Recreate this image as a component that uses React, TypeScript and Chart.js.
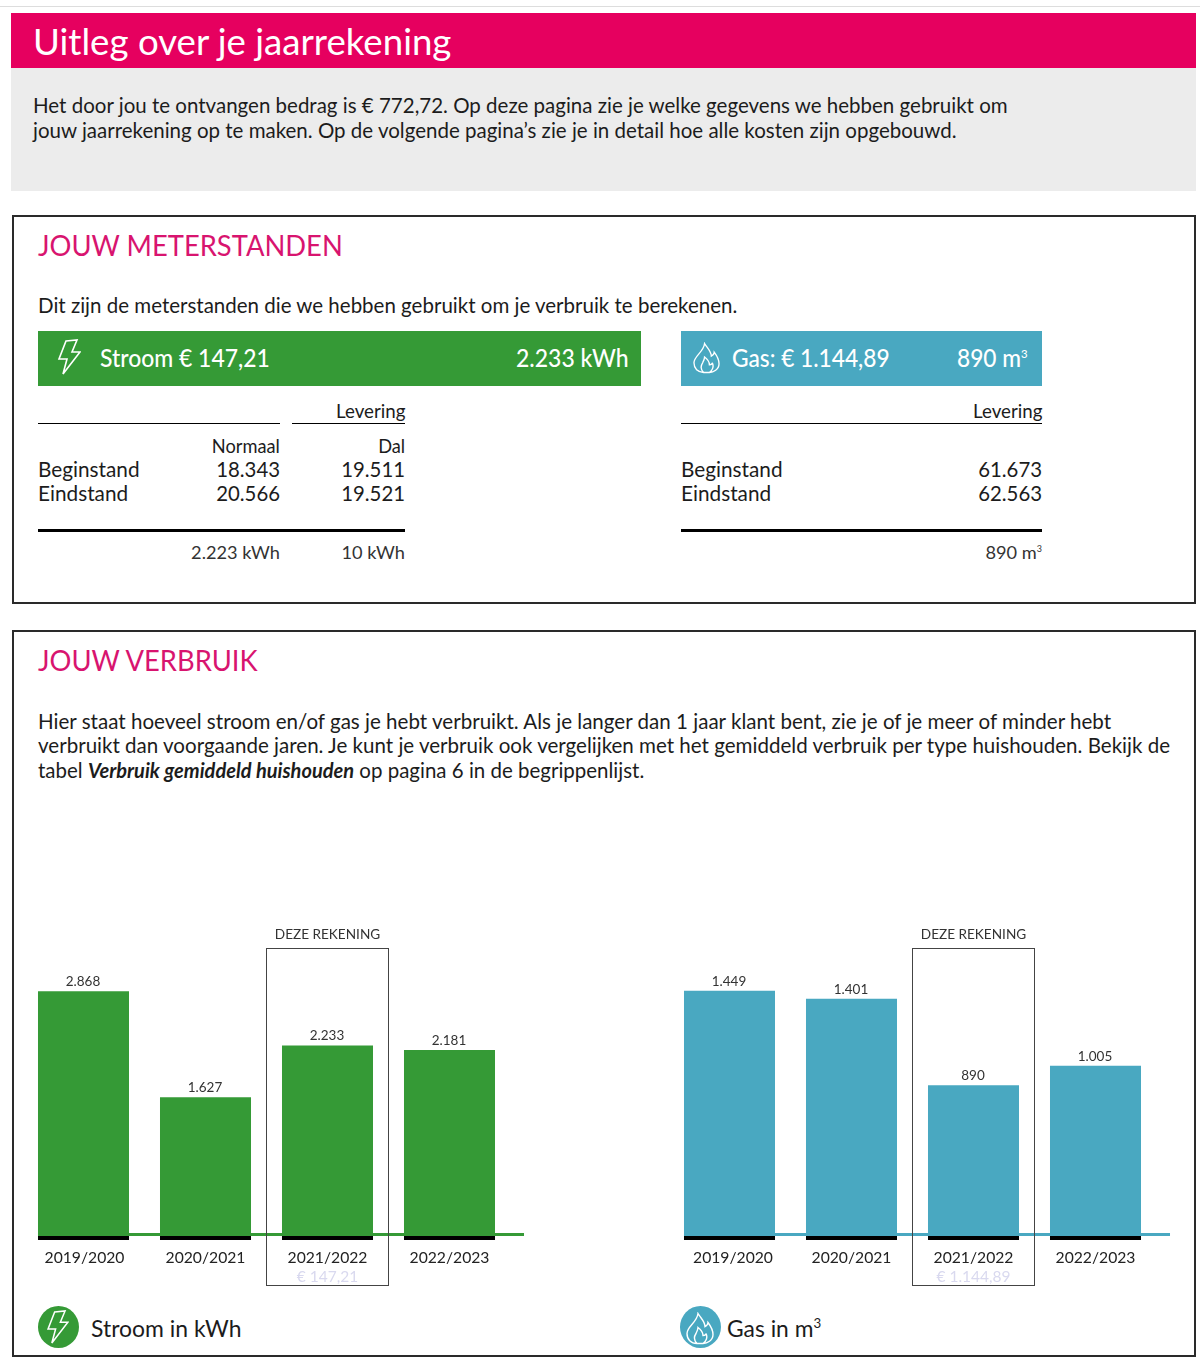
import React, { useEffect, useRef } from "react";
import { Chart, registerables } from "chart.js";

Chart.register(...registerables);

const years = ["2019/2020", "2020/2021", "2021/2022", "2022/2023"];
const stroomValues = [2868, 1627, 2233, 2181];
const gasValues = [1449, 1401, 890, 1005];
const currentYear = "2021/2022";
const stroomAmount = "€ 147,21";
const gasAmount = "€ 1.144,89";
const boxTitle = "DEZE REKENING";

const GREEN = "#359a36";
const BLUE = "#49a8c1";
const PINK = "#e6005f";
const HEAD = "#d8146f";
const INK = "#1c1c1c";

const FONT = "Lato, sans-serif";

function fmt(n: number) {
  return String(n).replace(/\B(?=(\d{3})+$)/g, ".");
}

type BarProps = {
  values: number[];
  color: string;
  max: number;
  amount: string;
  left: number;
  width: number;
  padLeft: number;
  padRight: number;
  lineExtra: number;
  labelShift: number[];
};

function BarChart({ values, color, max, amount, left, width, padLeft, padRight, lineExtra, labelShift }: BarProps) {
  const ref = useRef<HTMLCanvasElement | null>(null);
  useEffect(() => {
    if (!ref.current) return;
    const overlay = {
      id: "overlay",
      beforeDraw(chart: any) {
        const items = chart.scales.x.getLabelItems(chart.chartArea);
        items.forEach((it: any, i: number) => {
          it.options.translation[0] += labelShift[i] || 0;
        });
      },
      afterDatasetsDraw(chart: any) {
        const { ctx, scales, chartArea } = chart;
        const x = scales.x;
        const y = scales.y;
        const meta = chart.getDatasetMeta(0);
        const base = y.getPixelForValue(0);
        ctx.save();
        const first = meta.data[0];
        const last = meta.data[meta.data.length - 1];
        ctx.fillStyle = color;
        ctx.fillRect(first.x - first.width / 2, base - 3, last.x + last.width / 2 - (first.x - first.width / 2) + lineExtra, 3);
        ctx.fillStyle = "#000";
        meta.data.forEach((b: any) => ctx.fillRect(b.x - b.width / 2, base, b.width, 4));
        ctx.fillStyle = "#333";
        ctx.font = `13.5px ${FONT}`;
        ctx.textAlign = "center";
        ctx.textBaseline = "alphabetic";
        meta.data.forEach((b: any, i: number) => ctx.fillText(fmt(values[i]), b.x - 0.5, b.y - 5));
        const cx = x.getPixelForValue(years.indexOf(currentYear));
        const half = 61;
        const top = chartArea.top - 32;
        ctx.strokeStyle = "#444";
        ctx.lineWidth = 1;
        ctx.strokeRect(Math.floor(cx - half) + 0.5, top + 0.5, 122, 337);
        ctx.fillStyle = "#333";
        ctx.font = `13.6px ${FONT}`;
        ctx.fillText(boxTitle, cx, top - 9);
        ctx.fillStyle = "#d9d9ef";
        ctx.font = `15.5px ${FONT}`;
        ctx.fillText(amount, cx, top + 334);
        ctx.restore();
      },
    };
    const chart = new Chart(ref.current, {
      type: "bar",
      data: {
        labels: years,
        datasets: [
          { data: values, backgroundColor: color, barPercentage: 0.746, categoryPercentage: 1 },
        ],
      },
      options: {
        responsive: false,
        animation: false,
        layout: { padding: { left: padLeft, right: padRight, top: 60, bottom: 0 } },
        plugins: { legend: { display: false }, tooltip: { enabled: false }, title: { display: false } },
        scales: {
          y: { display: false, min: 0, max },
          x: {
            grid: { display: false, drawTicks: false },
            border: { display: false },
            afterFit: (s: any) => {
              s.height = 64;
            },
            ticks: {
              padding: 13,
              color: "#222",
              autoSkip: false,
              maxRotation: 0,
              font: { family: "Lato", size: 15.7 },
            },
          },
        },
      },
      plugins: [overlay],
    } as any);
    return () => chart.destroy();
  }, []);
  return (
    <canvas
      ref={ref}
      width={width}
      height={380}
      style={{ position: "absolute", left, top: 920, width, height: 380 }}
    />
  );
}

type TProps = {
  x: number;
  y: number;
  size: number;
  color?: string;
  right?: boolean;
  weight?: number;
  sx?: number;
  children: React.ReactNode;
};

function T({ x, y, size, color = INK, right, weight = 400, sx = 1, children }: TProps) {
  const st: React.CSSProperties = {
    position: "absolute",
    top: y,
    transform: `translateY(-50%) scaleX(${sx})`,
    transformOrigin: right ? "right center" : "left center",
    fontFamily: FONT,
    fontSize: size,
    fontWeight: weight,
    color,
    whiteSpace: "nowrap",
    lineHeight: 1.2,
  };
  if (right) st.right = 1200 - x;
  else st.left = x;
  return <div style={st}>{children}</div>;
}

function R({ x, y, w, h, bg, border }: { x: number; y: number; w: number; h: number; bg?: string; border?: string }) {
  return (
    <div
      style={{
        position: "absolute",
        left: x,
        top: y,
        width: w,
        height: h,
        background: bg,
        border,
        boxSizing: "border-box",
      }}
    />
  );
}

function Bolt({ x, y, w, h }: { x: number; y: number; w: number; h: number }) {
  return (
    <svg viewBox="0 0 24 36" style={{ position: "absolute", left: x, top: y, width: w, height: h }}>
      <path d="M9 2 L20 1 L15 13 L23 13 L6 35 L10 20 L2 20 Z" fill="none" stroke="#fff" strokeWidth="1.6" strokeLinejoin="miter" />
    </svg>
  );
}

function Flame({ x, y, w, h }: { x: number; y: number; w: number; h: number }) {
  return (
    <svg viewBox="0 0 28 32" style={{ position: "absolute", left: x, top: y, width: w, height: h }}>
      <path
        d="M12 1 C15 6 19 9 19 14 C21 13 22 11 22 10 C25 14 27 18 27 22 C27 28 21 31 17 31 L11 31 C5 31 1 27 1 21 C1 14 11 10 12 1 Z M11 31 C8 28 8 24 10 21 C11 19 12 17 12 15 C16 18 17 20 17 23 C19 23 20 22 20 21 C22 25 20 29 17 31"
        fill="none"
        stroke="#fff"
        strokeWidth="1.4"
      />
    </svg>
  );
}

const supSt = (s: number): React.CSSProperties => ({ fontSize: s, lineHeight: 0 });

export default function App() {
  return (
    <div style={{ position: "absolute", left: 0, top: 0, width: 1200, height: 1364, background: "#fff", overflow: "hidden", filter: "blur(0.3px)" }}>
      <R x={0} y={6} w={1200} h={1} bg="#dddddd" />
      <R x={11} y={13} w={1185} h={55} bg={PINK} />
      <R x={11} y={68} w={1185} h={123} bg="#ececec" />
      <T x={33} y={41} size={37} color="#fff" sx={0.99}>Uitleg over je jaarrekening</T>
      <T x={33} y={105} size={22} sx={0.932}>Het door jou te ontvangen bedrag is € 772,72. Op deze pagina zie je welke gegevens we hebben gebruikt om</T>
      <T x={33} y={130} size={22} sx={0.932}>jouw jaarrekening op te maken. Op de volgende pagina’s zie je in detail hoe alle kosten zijn opgebouwd.</T>

      <R x={12} y={215} w={1184} h={389} border="2px solid #2a2a2a" />
      <T x={38} y={246} size={28} color={HEAD} sx={0.977}>JOUW METERSTANDEN</T>
      <T x={38} y={305} size={22} sx={0.932}>Dit zijn de meterstanden die we hebben gebruikt om je verbruik te berekenen.</T>

      <R x={38} y={331} w={603} h={55} bg={GREEN} />
      <Bolt x={57} y={339} w={24} h={36} />
      <T x={100} y={358} size={24} color="#fff" weight={500} sx={0.955}>Stroom € 147,21</T>
      <T x={628} y={358} size={24} color="#fff" weight={500} sx={0.957} right>2.233 kWh</T>
      <R x={681} y={331} w={361} h={55} bg={BLUE} />
      <Flame x={693} y={342} w={27} h={32} />
      <T x={732} y={358} size={24} color="#fff" weight={500} sx={0.946}>Gas: € 1.144,89</T>
      <T x={1028} y={358} size={24} color="#fff" weight={500} sx={0.947} right>890 m<sup style={supSt(12)}>3</sup></T>

      <T x={405} y={411} size={19} sx={0.985} right>Levering</T>
      <R x={38} y={423} w={242} h={1} bg="#000" />
      <R x={292} y={423} w={113} h={1} bg="#000" />
      <T x={280} y={446} size={19} sx={0.96} right>Normaal</T>
      <T x={405} y={446} size={19} sx={0.96} right>Dal</T>
      <T x={38} y={469} size={22} sx={0.944}>Beginstand</T>
      <T x={280} y={469} size={22} sx={0.925} right>18.343</T>
      <T x={405} y={469} size={22} sx={0.925} right>19.511</T>
      <T x={38} y={493} size={22} sx={0.944}>Eindstand</T>
      <T x={280} y={493} size={22} sx={0.925} right>20.566</T>
      <T x={405} y={493} size={22} sx={0.925} right>19.521</T>
      <R x={38} y={529} w={367} h={3} bg="#000" />
      <T x={280} y={553} size={18.2} color="#333" right>2.223 kWh</T>
      <T x={405} y={553} size={18.2} color="#333" right>10 kWh</T>

      <T x={1042} y={411} size={19} sx={0.985} right>Levering</T>
      <R x={681} y={423} w={361} h={1} bg="#000" />
      <T x={681} y={469} size={22} sx={0.944}>Beginstand</T>
      <T x={1042} y={469} size={22} sx={0.925} right>61.673</T>
      <T x={681} y={493} size={22} sx={0.944}>Eindstand</T>
      <T x={1042} y={493} size={22} sx={0.925} right>62.563</T>
      <R x={681} y={529} w={361} h={3} bg="#000" />
      <T x={1042} y={553} size={18.2} color="#333" right>890 m<sup style={supSt(9)}>3</sup></T>

      <R x={12} y={630} w={1184} h={727} border="2px solid #2a2a2a" />
      <T x={38} y={661} size={28} color={HEAD} sx={0.977}>JOUW VERBRUIK</T>
      <T x={38} y={721} size={22} sx={0.935}>Hier staat hoeveel stroom en/of gas je hebt verbruikt. Als je langer dan 1 jaar klant bent, zie je of je meer of minder hebt</T>
      <T x={38} y={745} size={22} sx={0.934}>verbruikt dan voorgaande jaren. Je kunt je verbruik ook vergelijken met het gemiddeld verbruik per type huishouden. Bekijk de</T>
      <T x={38} y={770} size={22} sx={0.931}>tabel <b style={{ fontWeight: 700, fontSize: 21.5 }}><i>Verbruik gemiddeld huishouden</i></b> op pagina 6 in de begrippenlijst.</T>

      <BarChart values={stroomValues} color={GREEN} max={3000} amount={stroomAmount} left={14} width={540} padLeft={8.5} padRight={43.5} lineExtra={29} labelShift={[1, 0, 0, 0]} />
      <BarChart values={gasValues} color={BLUE} max={1512} amount={gasAmount} left={660} width={530} padLeft={8.5} padRight={33.5} lineExtra={29} labelShift={[3.5, 0, 0, 0]} />

      <div style={{ position: "absolute", left: 38, top: 1306, width: 41, height: 42, borderRadius: "50%", background: GREEN }} />
      <Bolt x={46} y={1310} w={23} h={34} />
      <T x={91} y={1328} size={24} sx={0.955}>Stroom in kWh</T>
      <div style={{ position: "absolute", left: 680, top: 1306, width: 41, height: 42, borderRadius: "50%", background: BLUE }} />
      <Flame x={686} y={1312} w={28} h={33} />
      <T x={727} y={1328} size={24} sx={0.95}>Gas in m<sup style={supSt(14)}>3</sup></T>
    </div>
  );
}
